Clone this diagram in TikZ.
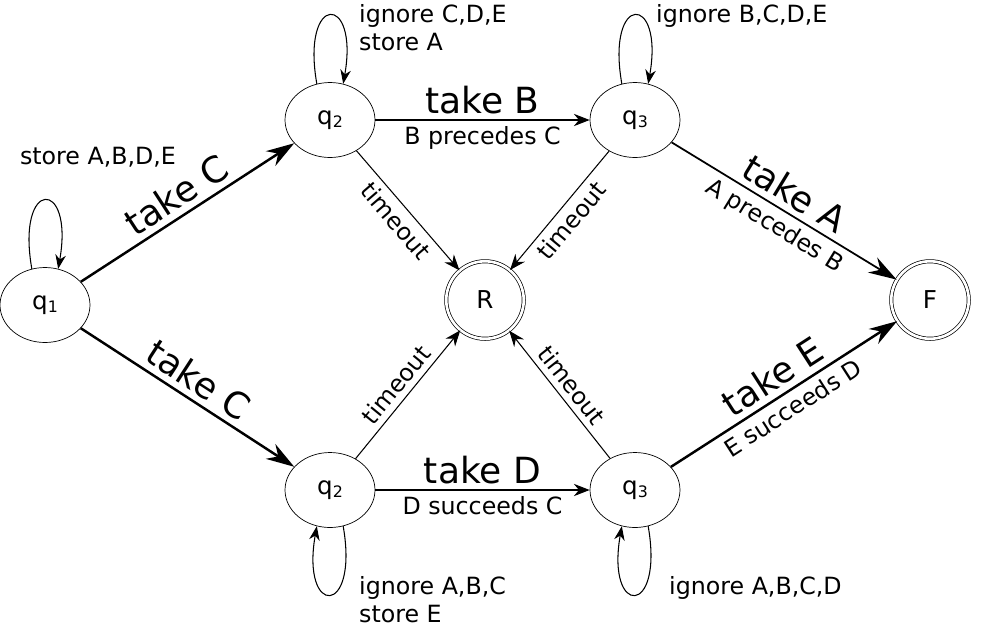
\documentclass[tikz,border=0pt]{standalone}
\usepackage{fontspec}
\setmainfont{DejaVu Sans}
\usetikzlibrary{arrows.meta,shapes.geometric}
\newcommand{\qs}[2]{q{\fontsize{9}{10}\selectfont\raisebox{-0.35ex}{#2}}}
\begin{document}
\begin{tikzpicture}[x=0.02cm,y=-0.02cm,
  st/.style={draw,ellipse,minimum width=1.8cm,minimum height=1.5cm,inner sep=0pt,font=\fontsize{14}{16}\selectfont},
  fin/.style={draw,circle,double,double distance=1.5pt,minimum size=1.55cm,inner sep=0pt,font=\fontsize{14}{16}\selectfont},
  thin/.style={-{Stealth[length=9pt,width=7pt]},line width=0.6pt},
  thick/.style={-{Stealth[length=16pt,width=10pt]},line width=1.4pt},
  big/.style={font=\fontsize{20.5}{23}\selectfont},
  sm/.style={font=\fontsize{13.5}{16}\selectfont},
  lp/.style={-{Stealth[length=8pt,width=6pt]},line width=0.6pt,looseness=9}]
\useasboundingbox (0,0) rectangle (988,637);
\node[st] (q1) at (45,305) {\qs{q}{1}};
\node[st] (a2) at (330,120) {\qs{q}{2}};
\node[st] (a3) at (635,120) {\qs{q}{3}};
\node[st] (b2) at (330,490) {\qs{q}{2}};
\node[st] (b3) at (635,490) {\qs{q}{3}};
\node[fin] (R) at (485,300) {R};
\node[fin] (F) at (930,300) {F};
% loops
\draw[lp] (q1.110) to[out=100,in=80] (q1.70);
\node[sm] (l1) at (98,157) {store A,B,D,E};
\draw[lp] (a2.110) to[out=100,in=80] (a2.70);
\node[sm,align=left,anchor=north west] (l2) at (353,-2) {ignore C,D,E\\store A};
\draw[lp] (a3.110) to[out=100,in=80] (a3.70);
\node[sm,anchor=north west] (l3) at (650,-2) {ignore B,C,D,E};
\draw[lp] (b2.-70) to[out=-80,in=-100] (b2.-110);
\node[sm,align=left,anchor=north west] (l4) at (353,570) {ignore A,B,C\\store E};
\draw[lp] (b3.-70) to[out=-80,in=-100] (b3.-110);
\node[sm,anchor=north west] (l5) at (663,570) {ignore A,B,C,D};
% main edges
\draw[thick] (q1) -- node[big,sloped,above] {take C} (a2);
\draw[thick] (q1) -- node[big,sloped,above] {take C} (b2);
\draw[thin] (a2) -- node[big,above] {take B} node[sm,below] {B precedes C} (a3);
\draw[thin] (b2) -- node[big,above] {take D} node[sm,below] {D succeeds C} (b3);
\draw[thick,line width=1pt] (a3) -- node[big,sloped,above] {take A} node[sm,sloped,below] {A precedes B} (F);
\draw[thick] (b3) -- node[big,sloped,above] {take E} node[sm,sloped,below] {E succeeds D} (F);
\draw[thin] (a2) -- node[sm,sloped,below] {timeout} (R);
\draw[thin] (a3) -- node[sm,sloped,below] {timeout} (R);
\draw[thin] (b2) -- node[sm,sloped,above] {timeout} (R);
\draw[thin] (b3) -- node[sm,sloped,above] {timeout} (R);
\end{tikzpicture}
\end{document}
